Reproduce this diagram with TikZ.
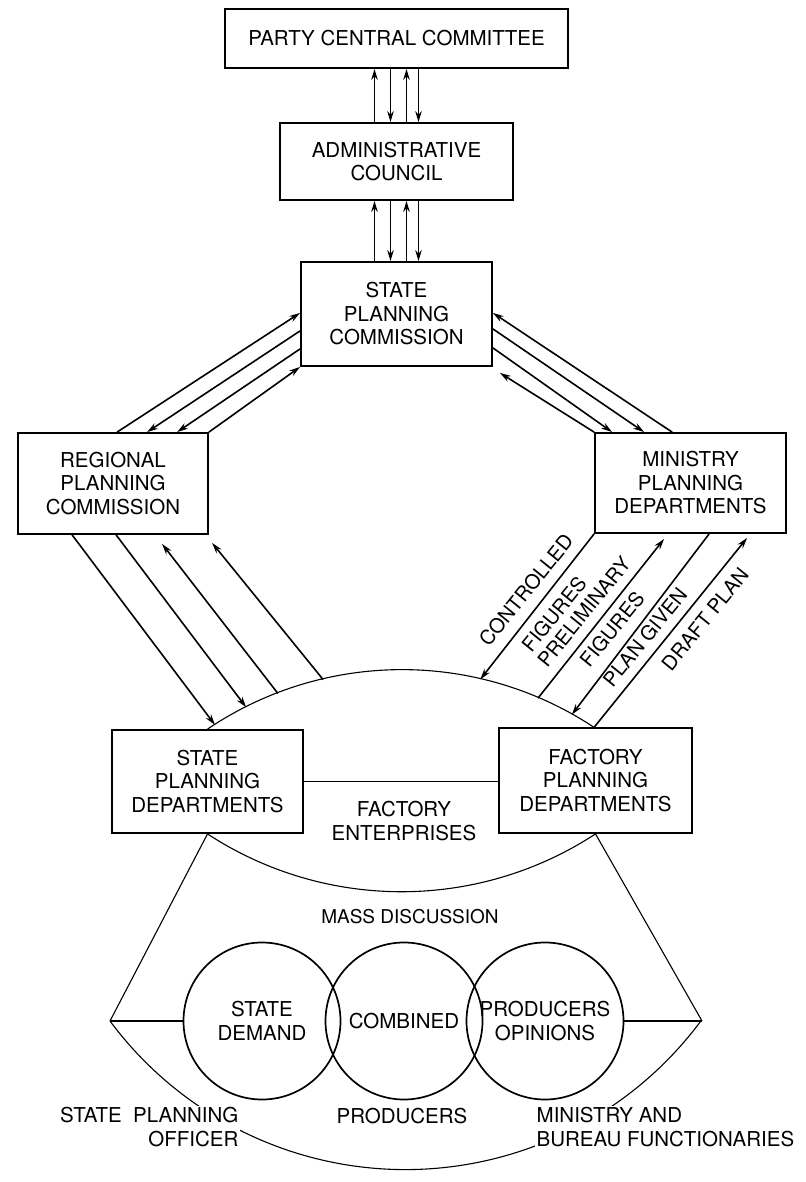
\documentclass[tikz,border=0pt]{standalone}
\usepackage{fontspec}
\setmainfont{TeX Gyre Heros}
\usetikzlibrary{arrows.meta,calc}
\newcommand{\lblfont}{\fontsize{20.5}{23.5}\selectfont}
\newcommand{\rotfont}{\fontsize{20}{23}\selectfont}
\newcommand{\massfont}{\fontsize{19}{23}\selectfont}
\begin{document}
\begin{tikzpicture}[x=1pt,y=1pt,
  box/.style={draw,line width=1.8pt,inner sep=0pt,align=center,font=\lblfont},
  lbl/.style={font=\lblfont,inner sep=0.5pt,align=center},
  arr/.style={line width=1.6pt,-{Stealth[length=11pt,width=6.5pt]}},
  ln/.style={line width=1.5pt},
  thinln/.style={line width=1.1pt},
  circ/.style={draw,circle,line width=1.7pt,minimum size=157pt,inner sep=0pt,align=center,font=\lblfont},
  rlab/.style={font=\rotfont,inner sep=0pt,rotate=51}]
\useasboundingbox (0,0) rectangle (805,-1182);

% boxes
\node[box,minimum width=343pt,minimum height=59pt] (pcc) at (396.5,-38.5) {PARTY CENTRAL COMMITTEE};
\node[box,minimum width=233pt,minimum height=77pt] (adm) at (396.5,-161.5) {ADMINISTRATIVE\\COUNCIL};
\node[box,minimum width=191pt,minimum height=104pt] (spc) at (396.5,-314) {STATE\\PLANNING\\COMMISSION};
\node[box,minimum width=190pt,minimum height=101pt] (rpc) at (113,-483.5) {REGIONAL\\PLANNING\\COMMISSION};
\node[box,minimum width=191pt,minimum height=100pt] (mpd) at (690.5,-483) {MINISTRY\\PLANNING\\DEPARTMENTS};
\node[box,minimum width=191pt,minimum height=103pt] (sdp) at (207.5,-781.5) {STATE\\PLANNING\\DEPARTMENTS};
\node[box,minimum width=193pt,minimum height=105pt] (fpd) at (595.5,-780.5) {FACTORY\\PLANNING\\DEPARTMENTS};

% vertical arrows
\draw[arr] ([xshift=-22pt]adm.north) -- ([xshift=-22pt]pcc.south);
\draw[arr] ([xshift=-6pt]pcc.south) -- ([xshift=-6pt]adm.north);
\draw[arr] ([xshift=10pt]adm.north) -- ([xshift=10pt]pcc.south);
\draw[arr] ([xshift=22pt]pcc.south) -- ([xshift=22pt]adm.north);
\draw[arr] ([xshift=-22pt]spc.north) -- ([xshift=-22pt]adm.south);
\draw[arr] ([xshift=-6pt]adm.south) -- ([xshift=-6pt]spc.north);
\draw[arr] ([xshift=10pt]spc.north) -- ([xshift=10pt]adm.south);
\draw[arr] ([xshift=22pt]adm.south) -- ([xshift=22pt]spc.north);

% left upper diagonals
\draw[arr] ([xshift=100pt]rpc.north west) -- ([yshift=54pt]spc.south west);
\draw[arr] ([yshift=36pt]spc.south west) -- ([xshift=130pt]rpc.north west);
\draw[arr] ([yshift=18pt]spc.south west) -- ([xshift=160pt]rpc.north west);
\draw[arr] (rpc.north east) -- (spc.south west);

% right upper diagonals
\draw[arr] ([xshift=78pt]mpd.north west) -- ([yshift=54pt]spc.south east);
\draw[arr] ([yshift=38pt]spc.south east) -- ([xshift=50pt]mpd.north west);
\draw[arr] ([yshift=19pt]spc.south east) -- ([xshift=18pt]mpd.north west);
\draw[arr] (mpd.north west) -- ([shift={(7pt,-6pt)}]spc.south east);

% upper arc
\coordinate (uc) at (402,-1018.5);
\draw[thinln] (sdp.north) arc[start angle=124, end angle=56.3, radius=348];

% left lower arrows
\draw[arr] ([xshift=55pt]rpc.south west) -- ($(uc)+(122.5:348)$);
\draw[arr] ([xshift=99pt]rpc.south west) -- ($(uc)+(116.6:348)$);
\draw[arr] ($(uc)+(110.9:348)$) -- ([shift={(145pt,-9pt)}]rpc.south west);
\draw[arr] ($(uc)+(103.1:348)$) -- ([shift={(195pt,-8pt)}]rpc.south west);

% right lower arrows
\draw[arr] (mpd.south west) -- ($(uc)+(77:348)$);
\draw[arr] ($(uc)+(67:348)$) -- ([shift={(70pt,-5pt)}]mpd.south west);
\draw[arr] ([xshift=115pt]mpd.south west) -- ($(uc)+(60.8:348)$);
\draw[arr] ($(uc)+(56.6:348)$) -- ([shift={(153pt,-4pt)}]mpd.south west);

% rotated labels
\node[rlab] (cf1) at (526,-590) {CONTROLLED};
\node[rlab] (cf2) at (554,-614) {FIGURES};
\node[rlab] (pf1) at (584,-612) {PRELIMINARY};
\node[rlab] (pf2) at (612,-629) {FIGURES};
\node[rlab] (pg) at (645,-637) {PLAN GIVEN};
\node[rlab] (dp) at (705,-619) {DRAFT PLAN};

% factory enterprises
\draw[ln] (sdp.east) -- (sdp.east -| fpd.west);
\node[lbl] (fe) at (404,-821) {FACTORY\\ENTERPRISES};
\draw[thinln] (sdp.south) arc[start angle=236.8, end angle=303.2, radius=354.3];

% mass discussion
\coordinate (L) at (110,-1021);
\coordinate (R) at (702,-1021);
\draw[thinln] (sdp.south) -- (L);
\draw[thinln] (fpd.south) -- (R);
\node[lbl,font=\massfont] (md) at (410,-917) {MASS DISCUSSION};
\node[circ] (c1) at (262,-1021) {STATE\\DEMAND};
\node[circ] (c2) at (404,-1021) {COMBINED};
\node[circ] (c3) at (545,-1021) {PRODUCERS\\OPINIONS};
\draw[ln] (L) -- (c1.west);
\draw[ln] (c3.east) -- (R);
\draw[thinln] (L) arc[start angle=216.6, end angle=323.4, radius=368];

\node[lbl,fill=white,inner sep=1.5pt,align=right,anchor=east] (spo) at (240,-1127) {STATE\ \ PLANNING\\OFFICER};
\node[lbl] (prod) at (402,-1116) {PRODUCERS};
\node[lbl,fill=white,inner sep=1.5pt,align=left,anchor=west] (mbf) at (535,-1127) {MINISTRY AND\\BUREAU FUNCTIONARIES};
\end{tikzpicture}
\end{document}
